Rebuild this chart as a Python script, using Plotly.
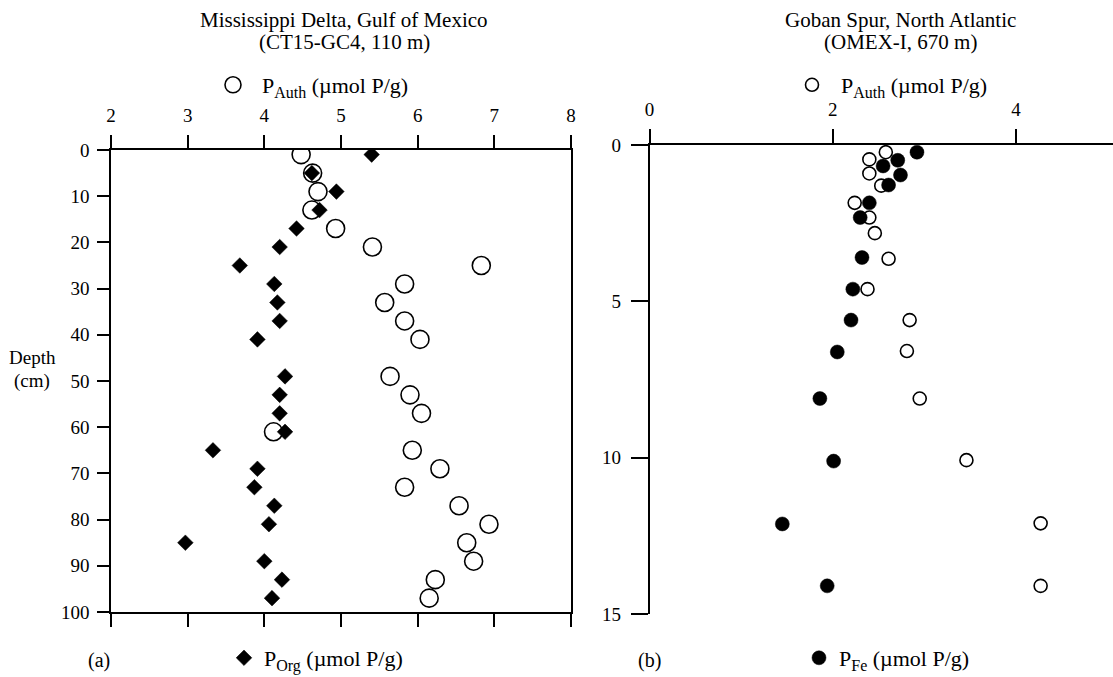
import plotly.graph_objects as go

# ---------------- data ----------------
# (a) Mississippi Delta, CT15-GC4
depth_a = [1, 5, 9, 13, 17, 21, 25, 29, 33, 37, 41, 49, 53, 57, 61, 65, 69, 73, 77, 81, 85, 89, 93, 97]
p_auth_a = [4.48, 4.63, 4.70, 4.62, 4.93, 5.41, 6.83, 5.83, 5.57, 5.83, 6.03, 5.64,
            5.90, 6.05, 4.12, 5.93, 6.29, 5.83, 6.54, 6.93, 6.64, 6.73, 6.23, 6.15]
p_org_a = [5.40, 4.62, 4.94, 4.72, 4.42, 4.20, 3.68, 4.13, 4.17, 4.20, 3.91, 4.27,
           4.20, 4.20, 4.27, 3.33, 3.91, 3.87, 4.13, 4.06, 2.97, 4.00, 4.23, 4.10]

# (b) Goban Spur, OMEX-I
depth_b_auth = [0.23, 0.46, 0.91, 1.30, 1.85, 2.32, 2.82, 3.64, 4.61, 5.60, 6.59, 8.11, 10.08, 12.10, 14.10]
p_auth_b = [2.58, 2.40, 2.40, 2.53, 2.24, 2.40, 2.46, 2.61, 2.38, 2.84, 2.81, 2.95, 3.46, 4.27, 4.27]
depth_b_fe = [0.23, 0.49, 0.67, 0.96, 1.28, 1.85, 2.32, 3.60, 4.61, 5.60, 6.62, 8.11, 10.11, 12.12, 14.10]
p_fe_b = [2.92, 2.71, 2.55, 2.74, 2.61, 2.40, 2.30, 2.32, 2.22, 2.20, 2.05, 1.86, 2.01, 1.45, 1.94]

ticks_a_x = [2, 3, 4, 5, 6, 7, 8]
ticks_a_y = [0, 10, 20, 30, 40, 50, 60, 70, 80, 90, 100]
ticks_b_x = [0, 2, 4]
ticks_b_x_bottom = [2, 4]
ticks_b_y = [0, 5, 10, 15]

W, H = 1113, 677
FONT = "Liberation Serif"

def px(x):
    return x / W

def py(y):
    return 1 - y / H

def sub_label(sub):
    return "P<sub><span style='font-size:16px'>" + sub + "</span></sub> (µmol P/g)"

fig = go.Figure()

fig.add_trace(go.Scatter(x=p_auth_a, y=depth_a, mode="markers", xaxis="x", yaxis="y",
                         name=sub_label("Auth"), legend="legend",
                         marker=dict(symbol="circle", size=18, color="white",
                                     line=dict(color="black", width=1.6))))
fig.add_trace(go.Scatter(x=p_org_a, y=depth_a, mode="markers", xaxis="x", yaxis="y",
                         name=sub_label("Org"), legend="legend2",
                         marker=dict(symbol="diamond", size=12, color="black",
                                     line=dict(color="black", width=0.5))))
fig.add_trace(go.Scatter(x=p_auth_b, y=depth_b_auth, mode="markers", xaxis="x2", yaxis="y2",
                         name=sub_label("Auth"), legend="legend3",
                         marker=dict(symbol="circle", size=13, color="white",
                                     line=dict(color="black", width=1.6))))
fig.add_trace(go.Scatter(x=p_fe_b, y=depth_b_fe, mode="markers", xaxis="x2", yaxis="y2",
                         name=sub_label("Fe"), legend="legend4",
                         marker=dict(symbol="circle", size=14, color="black",
                                     line=dict(color="black", width=0.5))))

axis_common = dict(showgrid=False, zeroline=False, showline=True, linecolor="black",
                   linewidth=1.5, ticks="outside", tickcolor="black", tickwidth=1.5,
                   automargin=False,
                   tickfont=dict(family=FONT, size=19, color="black"))

xb_max = (W - 649.5) / 91.6

fig.update_layout(
    width=W, height=H,
    margin=dict(l=0, r=0, t=0, b=0, autoexpand=False),
    paper_bgcolor="white", plot_bgcolor="white",
    showlegend=True,
    xaxis=dict(domain=[px(111), px(571)], range=[2, 8], side="top", anchor="y",
               tickvals=ticks_a_x, ticklen=13, mirror="ticks", ticklabelstandoff=6,
               **axis_common),
    yaxis=dict(domain=[py(612), py(150)], range=[100, 0], anchor="x",
               tickvals=ticks_a_y, ticklen=12, mirror=True, ticklabelstandoff=4,
               **axis_common),
    xaxis2=dict(domain=[px(649.5), 1.0], range=[0, xb_max], side="top", anchor="y2",
                tickvals=ticks_b_x, ticklen=14, mirror=False, ticklabelstandoff=6,
                **axis_common),
    xaxis3=dict(domain=[px(649.5), 1.0], range=[0, xb_max], side="bottom", anchor="y2",
                overlaying="x2", tickvals=ticks_b_x_bottom, ticklen=16,
                showticklabels=False, **axis_common),
    yaxis2=dict(domain=[py(614), py(145)], range=[15, 0], anchor="x2",
                tickvals=ticks_b_y, ticklen=17, mirror=False, ticklabelstandoff=6,
                **axis_common),
)

leg_common = dict(bgcolor="rgba(0,0,0,0)", borderwidth=0, yanchor="middle", xanchor="left",
                  font=dict(family=FONT, size=22, color="black"), itemclick=False,
                  itemdoubleclick=False)
fig.update_layout(
    legend=dict(x=px(204), y=py(85), itemwidth=48, **leg_common),
    legend2=dict(x=px(224), y=py(658), itemwidth=30, **leg_common),
    legend3=dict(x=px(783), y=py(85), itemwidth=48, **leg_common),
    legend4=dict(x=px(799), y=py(658), itemwidth=30, **leg_common),
)

def note(text, x, y, size=21, xanchor="center"):
    fig.add_annotation(text=text, x=px(x), y=py(y), xref="paper", yref="paper",
                       showarrow=False, xanchor=xanchor, yanchor="middle",
                       font=dict(family=FONT, size=size, color="black"))

note("Mississippi Delta, Gulf of Mexico", 344, 20)
note("(CT15-GC4, 110 m)", 344, 42)
note("Goban Spur, North Atlantic", 900, 20)
note("(OMEX-I, 670 m)", 900, 42)
note("Depth", 32, 357, size=19)
note("(cm)", 32, 381, size=19)
note("(a)", 99, 660, size=20)
note("(b)", 649, 660, size=20)

fig.write_html("out.html")
